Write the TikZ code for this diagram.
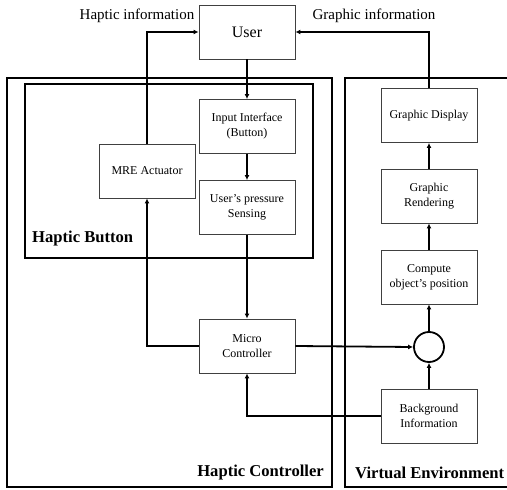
\documentclass[tikz,border=0pt]{standalone}
\usepackage{fontspec}
\setmainfont{Liberation Serif}
\usetikzlibrary{arrows.meta}
\begin{document}
\begin{tikzpicture}[x=1pt,y=-1pt,
  blk/.style={draw=black!75,line width=0.9pt,fill=white,minimum width=96pt,minimum height=54pt,inner sep=0pt,align=center,font=\fontsize{12}{15}\selectfont},
  frame/.style={line width=2.6pt},
  conn/.style={line width=1.8pt,-{Latex[length=5pt,width=5pt]}},
  lbl/.style={font=\fontsize{15}{18}\selectfont,inner sep=0pt},
  ttl/.style={font=\bfseries\fontsize{16.6}{20}\selectfont,inner sep=0pt}]
\useasboundingbox (0,0) rectangle (507,490);
% frames
\draw[frame] (7,78) rectangle (332,487);
\draw[frame] (345,78) rectangle (520,487);
\draw[frame] (25,84) rectangle (313,258);
% blocks
\node[blk,font=\fontsize{16}{19}\selectfont] (user) at (247,32) {User};
\node[blk] (input) at (247,126.5) {Input Interface\\(Button)};
\node[blk] (mre) at (147,171) {MRE Actuator};
\node[blk] (sense) at (247,207.5) {User's pressure\\Sensing};
\node[blk] (mcu) at (247,346) {Micro\\Controller};
\node[blk] (disp) at (429,115.5) {Graphic Display};
\node[blk] (rend) at (429,196) {Graphic\\Rendering};
\node[blk] (comp) at (429,277) {Compute\\object's position};
\node[blk] (bg) at (429,416) {Background\\Information};
\node[draw,line width=1.8pt,circle,minimum size=30pt,inner sep=0pt] (sum) at (429,347) {};
% labels
\node[lbl] (hinfo) at (137,16) {Haptic information};
\node[lbl] (ginfo) at (374,16) {Graphic information};
\node[ttl,anchor=west] (hb) at (32,239) {Haptic Button};
\node[ttl,anchor=east] (hc) at (324,473) {Haptic Controller};
\node[ttl,anchor=west] (ve) at (355,473) {Virtual Environment};
% connectors
\draw[conn] (user) -- (input);
\draw[conn] (input) -- (sense);
\draw[conn] (sense) -- (mcu);
\draw[conn] (mcu.west) -| (mre.south);
\draw[conn] (mre.north) |- (user.west);
\draw[conn] (disp.north) |- (user.east);
\draw[conn] (mcu.east) -- (sum.west);
\draw[conn] (bg) -- (sum);
\draw[conn] (sum) -- (comp);
\draw[conn] (comp) -- (rend);
\draw[conn] (rend) -- (disp);
\draw[conn] (bg.west) -| (mcu.south);
\end{tikzpicture}
\end{document}
